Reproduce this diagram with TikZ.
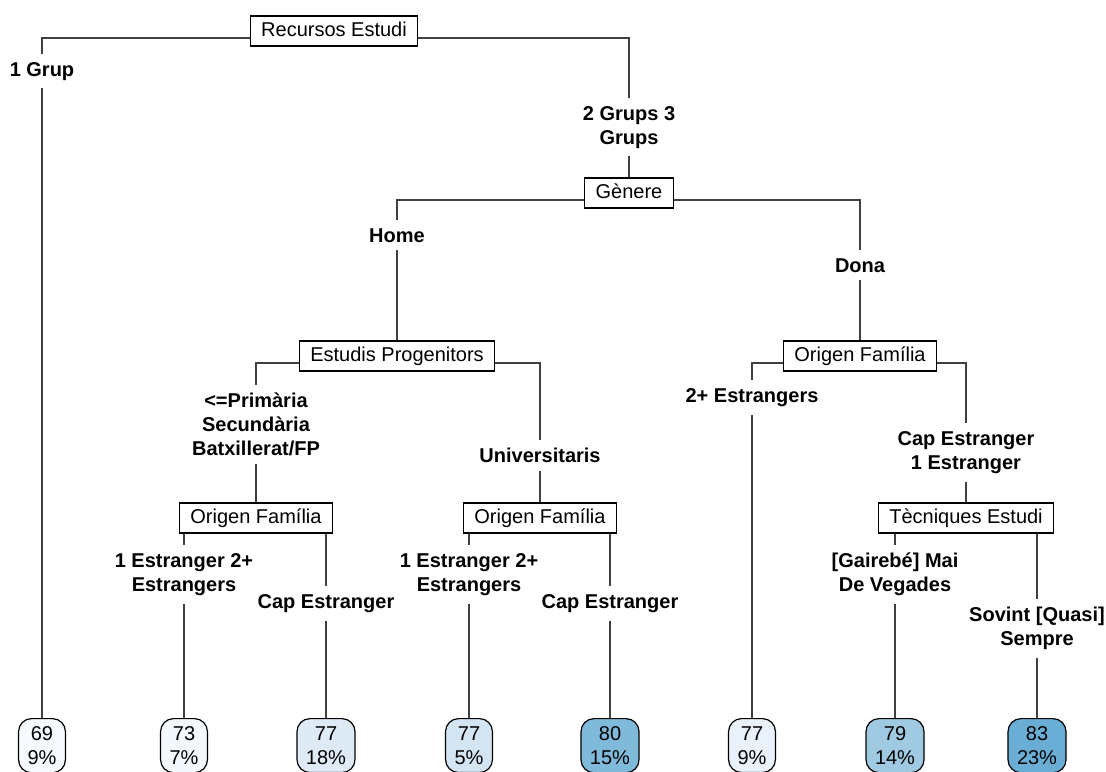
\documentclass[tikz,border=0pt]{standalone}
\usepackage{fontspec}
\setmainfont{Liberation Sans}
\usepackage{color}
\usepackage{tikz}
\usetikzlibrary{shapes,arrows}

\definecolor{leafA}{HTML}{F6FAFE}
\definecolor{leafB}{HTML}{F3F8FD}
\definecolor{leafC}{HTML}{DEEBF7}
\definecolor{leafD}{HTML}{D3E4F3}
\definecolor{leafE}{HTML}{80BADB}
\definecolor{leafF}{HTML}{E9F2FB}
\definecolor{leafG}{HTML}{9FCAE2}
\definecolor{leafH}{HTML}{6AAED6}

\tikzset{
  split/.style={draw=black, fill=white, line width=0.6pt, inner xsep=5.5pt,
    inner ysep=2.65pt, text height=7.5pt, text depth=2.2pt},
  cond/.style={font=\bfseries, align=center, inner xsep=2pt, inner ysep=3.8pt,
    yshift=-1.2pt},
  leaf/.style={draw=black, line width=0.6pt, rounded corners=6.5pt, align=center,
    anchor=north, inner xsep=4.5pt, inner ysep=4pt},
  branch/.style={draw=black!75, line width=0.6pt}
}

\begin{document}
\begin{tikzpicture}[x=0.5pt,y=-0.5pt]
    \useasboundingbox (0,0) rectangle (1106,771);
    % splits
    \node[split] (recursos) at (334,31) {Recursos Estudi};
    \node[split] (genere) at (629,193) {Gènere};
    \node[split] (estudis) at (397,356) {Estudis Progenitors};
    \node[split] (origenD) at (860,356) {Origen Família};
    \node[split] (origenA) at (256,518) {Origen Família};
    \node[split] (origenB) at (540,518) {Origen Família};
    \node[split] (tecniques) at (966,518) {Tècniques Estudi};
    % branch labels
    \node[cond] (grup1) at (42,69) {1 Grup};
    \node[cond] (grup23) at (629,125) {2 Grups 3\\Grups};
    \node[cond] (home) at (397,233) {Home};
    \node[cond] (dona) at (860,263) {Dona};
    \node[cond] (prim) at (256,422) {<=Primària\\Secundària\\Batxillerat/FP};
    \node[cond] (univ) at (540,453) {Universitaris};
    \node[cond] (estr2) at (752,395) {2+ Estrangers};
    \node[cond] (cap1) at (966,450) {Cap Estranger\\1 Estranger};
    \node[cond] (estrA) at (184,572) {1 Estranger 2+\\Estrangers};
    \node[cond] (capA) at (326,601) {Cap Estranger};
    \node[cond] (estrB) at (469,572) {1 Estranger 2+\\Estrangers};
    \node[cond] (capB) at (610,601) {Cap Estranger};
    \node[cond] (mai) at (895,572) {[Gairebé] Mai\\De Vegades};
    \node[cond] (sovint) at (1037,626) {Sovint [Quasi]\\Sempre};
    % leaves
    \node[leaf, fill=leafA] (f1) at (42,718) {69\\9\%};
    \node[leaf, fill=leafB] (f2) at (184,718) {73\\7\%};
    \node[leaf, fill=leafC] (f3) at (326,718) {77\\18\%};
    \node[leaf, fill=leafD] (f4) at (469,718) {77\\5\%};
    \node[leaf, fill=leafE] (f5) at (610,718) {80\\15\%};
    \node[leaf, fill=leafF] (f6) at (752,718) {77\\9\%};
    \node[leaf, fill=leafG] (f7) at (895,718) {79\\14\%};
    \node[leaf, fill=leafH] (f8) at (1037,718) {83\\23\%};
    % connectors
    \draw[branch] ([yshift=-3.5pt]recursos.west) -| (grup1.north);
    \draw[branch] (grup1.south) -- (f1.north);
    \draw[branch] ([yshift=-3.5pt]recursos.east) -| (grup23.north);
    \draw[branch] (grup23.south) -- (genere.north);
    \draw[branch] ([yshift=-3.5pt]genere.west) -| (home.north);
    \draw[branch] (home.south) -- (estudis.north);
    \draw[branch] ([yshift=-3.5pt]genere.east) -| (dona.north);
    \draw[branch] (dona.south) -- (origenD.north);
    \draw[branch] ([yshift=-3.5pt]estudis.west) -| (prim.north);
    \draw[branch] (prim.south) -- (origenA.north);
    \draw[branch] ([yshift=-3.5pt]estudis.east) -| (univ.north);
    \draw[branch] (univ.south) -- (origenB.north);
    \draw[branch] ([yshift=-3.5pt]origenD.west) -| (estr2.north);
    \draw[branch] (estr2.south) -- (f6.north);
    \draw[branch] ([yshift=-3.5pt]origenD.east) -| (cap1.north);
    \draw[branch] (cap1.south) -- (tecniques.north);
    \draw[branch] (origenA.south -| estrA.north) -- (estrA.north);
    \draw[branch] (estrA.south) -- (f2.north);
    \draw[branch] (origenA.south -| capA.north) -- (capA.north);
    \draw[branch] (capA.south) -- (f3.north);
    \draw[branch] (origenB.south -| estrB.north) -- (estrB.north);
    \draw[branch] (estrB.south) -- (f4.north);
    \draw[branch] (origenB.south -| capB.north) -- (capB.north);
    \draw[branch] (capB.south) -- (f5.north);
    \draw[branch] (tecniques.south -| mai.north) -- (mai.north);
    \draw[branch] (mai.south) -- (f7.north);
    \draw[branch] (tecniques.south -| sovint.north) -- (sovint.north);
    \draw[branch] (sovint.south) -- (f8.north);
\end{tikzpicture}
\end{document}
